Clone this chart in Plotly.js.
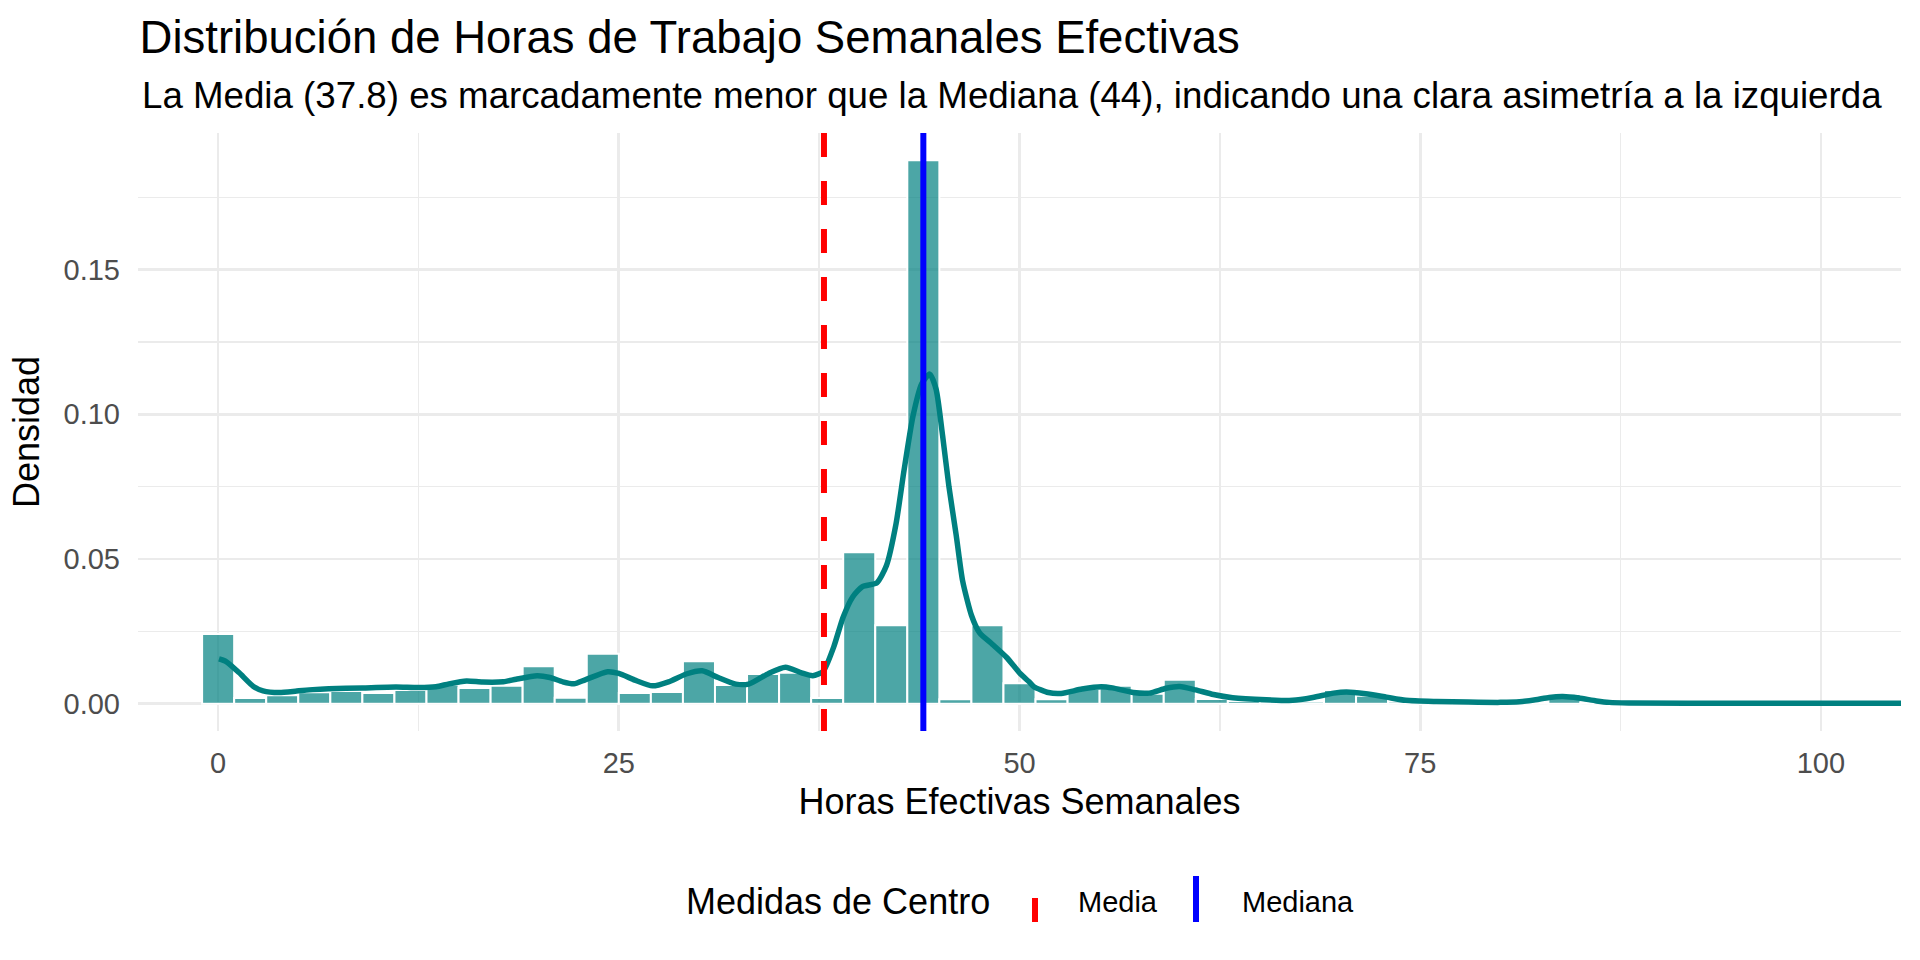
<!DOCTYPE html>
<html>
<head>
<meta charset="utf-8">
<script src="https://cdn.plot.ly/plotly-3.0.1.min.js"></script>
<style>
  html, body { margin: 0; padding: 0; background: #ffffff; }
  #chart { width: 1920px; height: 960px; }
</style>
</head>
<body>
<div id="chart"></div>
<script>
// ---------- data ----------
const chartTitle = "Distribución de Horas de Trabajo Semanales Efectivas";
const chartSubtitle = "La Media (37.8) es marcadamente menor que la Mediana (44), indicando una clara asimetría a la izquierda";
const xAxisTitle = "Horas Efectivas Semanales";
const yAxisTitle = "Densidad";
const legendTitle = "Medidas de Centro";
const legendLabels = ["Media", "Mediana"];

const meanValue = 37.8;
const medianValue = 44;

const binWidth = 2;
const binCenters = [0, 2, 4, 6, 8, 10, 12, 14, 16, 18, 20, 22, 24, 26, 28, 30, 32, 34, 36, 38,
  40, 42, 44, 46, 48, 50, 52, 54, 56, 58, 60, 62, 64, 66, 68, 70, 72, 74, 76, 78,
  80, 82, 84, 86, 88, 90, 92, 94, 96, 98, 100, 102, 104];
const binDensity = [0.0241, 0.0020, 0.0030, 0.0040, 0.0044, 0.0037, 0.0048, 0.0066, 0.0055, 0.0062,
  0.0130, 0.0021, 0.0173, 0.0037, 0.0041, 0.0147, 0.0065, 0.0103, 0.0107, 0.0020,
  0.0524, 0.0271, 0.1878, 0.0016, 0.0271, 0.0071, 0.0016, 0.0051, 0.0062, 0.0035,
  0.0083, 0.0017, 0.0010, 0.0008, 0.0008, 0.0048, 0.0028, 0.0008, 0.0003, 0.0003,
  0.0004, 0.0003, 0.0034, 0.0003, 0.0002, 0.0002, 0.0001, 0.0001, 0.0001, 0.0001,
  0.0001, 0.0001, 0.0001];

const kdeX = [0.05, 0.5, 1.3, 2.2, 2.8, 3.8, 4.9, 5.9, 6.9, 9.0, 11.1, 12.5, 13.6, 14.4, 15.5,
  16.5, 17.8, 18.6, 19.9, 20.7, 21.5, 22.2, 22.9, 24.3, 25.0, 26.0, 27.1, 28.1, 29.2,
  30.2, 31.2, 32.3, 33.1, 34.35, 35.4, 36.4, 37.1, 37.75, 38.4, 39.0, 39.6, 40.2,
  41.1, 41.7, 42.3, 42.8, 43.35, 43.9, 44.4, 44.8, 45.2, 45.6, 46.05, 46.45, 47.0,
  47.5, 48.3, 49.2, 50.0, 50.6, 50.9, 51.8, 52.6, 53.9, 55.1, 55.8, 57.1, 58.1,
  59.15, 60.0, 61.0, 62.1, 63.3, 65.4, 67.05, 68.3, 69.6, 70.4, 71.6, 72.9, 74.1,
  76.0, 78.0, 80.0, 81.2, 82.2, 83.05, 83.9, 84.9, 86.0, 86.8, 88.0, 95.0, 105.0];
const kdeY = [0.0155, 0.0146, 0.0108, 0.0060, 0.0045, 0.0039, 0.0044, 0.0049, 0.0052, 0.0055,
  0.0058, 0.0056, 0.0059, 0.0069, 0.0079, 0.0075, 0.0076, 0.0085, 0.0097, 0.0091,
  0.0076, 0.0069, 0.0083, 0.0111, 0.0105, 0.0082, 0.0062, 0.0076, 0.0103, 0.0114,
  0.0091, 0.0068, 0.0068, 0.0105, 0.0126, 0.0107, 0.0097, 0.0112, 0.0195, 0.0300,
  0.0370, 0.0405, 0.0418, 0.0478, 0.0623, 0.0808, 0.0993, 0.1106, 0.1139, 0.1086,
  0.0927, 0.0749, 0.0583, 0.0425, 0.0306, 0.0246, 0.0206, 0.0160, 0.0107, 0.0076,
  0.0059, 0.0039, 0.0036, 0.0051, 0.0059, 0.0055, 0.0039, 0.0037, 0.0054, 0.0060,
  0.0048, 0.0032, 0.0021, 0.0014, 0.0012, 0.0022, 0.0037, 0.0041, 0.0035, 0.0023,
  0.0012, 0.0008, 0.0006, 0.0005, 0.0007, 0.0014, 0.0022, 0.0025, 0.0020, 0.0010,
  0.0005, 0.0003, 0.0002, 0.0002];

const xLimits = [0, 100];

// ---------- styling ----------
const FONT = "Liberation Sans, Arial, Helvetica, sans-serif";
const teal = "#008080";
const gridCol = "#EBEBEB";

const yMax = Math.max(...binDensity);
const xSpan = xLimits[1] - xLimits[0];
const xRange = [xLimits[0] - 0.05 * xSpan, xLimits[1] + 0.05 * xSpan];
const yRange = [-0.05 * yMax, 1.05 * yMax];

const traces = [
  {
    type: "bar",
    x: binCenters,
    y: binDensity,
    width: binWidth,
    marker: { color: "rgba(0,128,128,0.7)", line: { color: "#ffffff", width: 2 } },
    hoverinfo: "x+y",
    showlegend: false
  },
  {
    type: "scatter",
    mode: "lines",
    x: kdeX,
    y: kdeY,
    line: { color: teal, width: 5.5, shape: "spline", smoothing: 0.6 },
    showlegend: false
  }
];

// plot-area geometry helpers for the legend (paper coordinates)
const M = { l: 138, r: 19, t: 133, b: 229 };
const W = 1920 - M.l - M.r, H = 960 - M.t - M.b;
const px = v => (v - M.l) / W;
const py = v => (960 - M.b - v) / H;

const legendY = py(901.7);

const layout = {
  width: 1920,
  height: 960,
  paper_bgcolor: "#ffffff",
  plot_bgcolor: "#ffffff",
  margin: M,
  showlegend: false,
  font: { family: FONT, color: "#000000" },
  title: {
    text: chartTitle,
    font: { family: FONT, size: 45.5, color: "#000000" },
    xref: "container", x: 139.6 / 1920, xanchor: "left",
    yref: "container", y: 1 - 37 / 960, yanchor: "middle"
  },
  xaxis: {
    range: xRange,
    dtick: 25,
    tick0: 0,
    showgrid: true,
    gridcolor: gridCol,
    gridwidth: 2.7,
    minor: { dtick: 12.5, tick0: 0, showgrid: true, gridcolor: gridCol, gridwidth: 1.35 },
    zeroline: false,
    showline: false,
    ticks: "",
    ticklabelstandoff: 12,
    tickfont: { family: FONT, size: 29, color: "#4D4D4D" },
    title: { text: xAxisTitle, font: { family: FONT, size: 36, color: "#000000" }, standoff: 10 },
    fixedrange: true
  },
  yaxis: {
    range: yRange,
    dtick: 0.05,
    tick0: 0,
    tickformat: ".2f",
    showgrid: true,
    gridcolor: gridCol,
    gridwidth: 2.7,
    minor: { dtick: 0.025, tick0: 0, showgrid: true, gridcolor: gridCol, gridwidth: 1.35 },
    zeroline: false,
    showline: false,
    ticks: "",
    ticklabelstandoff: 17,
    tickfont: { family: FONT, size: 29, color: "#4D4D4D" },
    title: { text: yAxisTitle, font: { family: FONT, size: 36, color: "#000000" }, standoff: 12 },
    fixedrange: true
  },
  shapes: [
    {
      type: "line", layer: "above",
      xref: "x", x0: meanValue, x1: meanValue,
      yref: "paper", y0: 1, y1: 0,
      line: { color: "#FF0000", width: 6, dash: "24px,24px" }
    },
    {
      type: "line", layer: "above",
      xref: "x", x0: medianValue, x1: medianValue,
      yref: "paper", y0: 1, y1: 0,
      line: { color: "#0000FF", width: 6 }
    },
    // legend keys
    {
      type: "line", layer: "above",
      xref: "paper", x0: px(1035), x1: px(1035),
      yref: "paper", y0: py(922), y1: py(874),
      line: { color: "#FF0000", width: 6, dash: "24px,24px" }
    },
    {
      type: "line", layer: "above",
      xref: "paper", x0: px(1196), x1: px(1196),
      yref: "paper", y0: py(922), y1: py(876),
      line: { color: "#0000FF", width: 6 }
    }
  ],
  annotations: [
    {
      text: chartSubtitle,
      xref: "paper", x: px(139.6), xanchor: "left",
      yref: "paper", y: py(95.5), yanchor: "middle",
      showarrow: false,
      font: { family: FONT, size: 36.7, color: "#000000" }
    },
    {
      text: legendTitle,
      xref: "paper", x: px(684), xanchor: "left",
      yref: "paper", y: legendY, yanchor: "middle",
      showarrow: false,
      font: { family: FONT, size: 36, color: "#000000" }
    },
    {
      text: legendLabels[0],
      xref: "paper", x: px(1076), xanchor: "left",
      yref: "paper", y: legendY, yanchor: "middle",
      showarrow: false,
      font: { family: FONT, size: 29, color: "#000000" }
    },
    {
      text: legendLabels[1],
      xref: "paper", x: px(1240), xanchor: "left",
      yref: "paper", y: legendY, yanchor: "middle",
      showarrow: false,
      font: { family: FONT, size: 29, color: "#000000" }
    }
  ]
};

Plotly.newPlot("chart", traces, layout, { displayModeBar: false, staticPlot: true });
</script>
</body>
</html>
